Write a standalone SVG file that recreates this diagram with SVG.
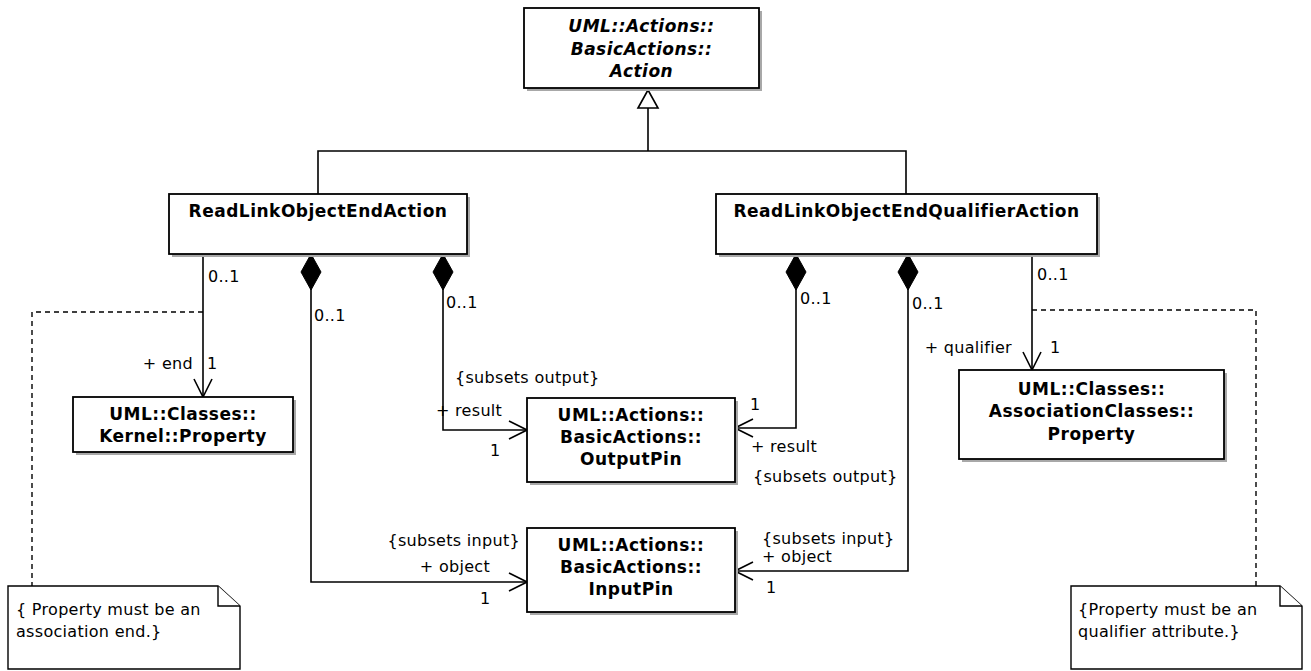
<svg xmlns="http://www.w3.org/2000/svg" width="1311" height="671" viewBox="0 0 1311 671">
<defs>
<style>
.box{fill:#fff;stroke:#000;stroke-width:1.8}
.shadow{fill:#a8a8a8}
.note{fill:#fff;stroke:#000;stroke-width:1.4}
.ln{fill:none;stroke:#000;stroke-width:1.6}
.dash{fill:none;stroke:#000;stroke-width:1.4;stroke-dasharray:5,4}
.cn{font-family:"DejaVu Sans",Verdana,sans-serif;font-size:17px;font-weight:bold;letter-spacing:0.5px;text-anchor:middle;fill:#000}
.it{font-style:italic}
.lb{font-family:"DejaVu Sans",Verdana,sans-serif;font-size:16px;letter-spacing:0.3px;fill:#000}
.r{text-anchor:end}
</style>
<marker id="arrow" viewBox="0 0 20 20" markerWidth="20" markerHeight="20" refX="19" refY="10" orient="auto" markerUnits="userSpaceOnUse">
<path d="M1,1 L19,10 L1,19" fill="none" stroke="#000" stroke-width="1.6"/>
</marker>
<marker id="diamond" viewBox="0 0 37 22" markerWidth="37" markerHeight="22" refX="0" refY="11" orient="auto" markerUnits="userSpaceOnUse">
<path d="M0,11 L18,1 L36,11 L18,21 Z" fill="#000" stroke="#000" stroke-width="1"/>
</marker>
<marker id="tri" viewBox="0 0 22 24" markerWidth="22" markerHeight="24" refX="19" refY="12" orient="auto" markerUnits="userSpaceOnUse">
<path d="M1,2 L19,12 L1,22 Z" fill="#fff" stroke="#000" stroke-width="1.6"/>
</marker>
</defs>
<rect width="1311" height="671" fill="#fff"/>

<g id="connectors">
<path class="ln" d="M648,151 L648,90" marker-end="url(#tri)"/>
<path class="ln" d="M318,194 L318,151 L906,151 L906,194"/>
<path class="ln" d="M203,254 L203,397" marker-end="url(#arrow)"/>
<path class="ln" d="M311,254 L311,582 L527,582" marker-start="url(#diamond)" marker-end="url(#arrow)"/>
<path class="ln" d="M443,254 L443,430 L527,430" marker-start="url(#diamond)" marker-end="url(#arrow)"/>
<path class="ln" d="M796,254 L796,428 L735,428" marker-start="url(#diamond)" marker-end="url(#arrow)"/>
<path class="ln" d="M908,254 L908,571 L735,571" marker-start="url(#diamond)" marker-end="url(#arrow)"/>
<path class="ln" d="M1032,254 L1032,370" marker-end="url(#arrow)"/>
<path class="dash" d="M203,312 L32,312 L32,586"/>
<path class="dash" d="M1032,310 L1256,310 L1256,586"/>
</g>

<g id="labels">
<text class="lb" x="208" y="282">0..1</text>
<text class="lb r" x="193" y="369">+ end</text>
<text class="lb" x="207" y="369">1</text>
<text class="lb" x="314" y="321">0..1</text>
<text class="lb" x="446" y="308">0..1</text>
<text class="lb" x="455" y="383">{subsets output}</text>
<text class="lb" x="436" y="416">+ result</text>
<text class="lb" x="490" y="456">1</text>
<text class="lb r" x="520" y="546">{subsets input}</text>
<text class="lb r" x="490" y="572">+ object</text>
<text class="lb" x="480" y="604">1</text>
<text class="lb" x="800" y="304">0..1</text>
<text class="lb" x="912" y="309">0..1</text>
<text class="lb" x="750" y="410">1</text>
<text class="lb" x="751" y="452">+ result</text>
<text class="lb" x="753" y="482">{subsets output}</text>
<text class="lb" x="762" y="544">{subsets input}</text>
<text class="lb" x="762" y="562">+ object</text>
<text class="lb" x="766" y="593">1</text>
<text class="lb" x="1037" y="280">0..1</text>
<text class="lb r" x="1012" y="353">+ qualifier</text>
<text class="lb" x="1050" y="353">1</text>
</g>

<g id="action">
<rect class="shadow" x="527" y="11" width="235" height="80"/>
<rect class="box" x="524" y="8" width="235" height="80"/>
<text class="cn it" x="641.5" y="32">UML::Actions::</text>
<text class="cn it" x="641.5" y="55">BasicActions::</text>
<text class="cn it" x="641.5" y="77">Action</text>
</g>

<g id="readLinkObjectEndAction">
<rect class="shadow" x="172" y="197" width="298" height="60"/>
<rect class="box" x="169" y="194" width="298" height="60"/>
<text class="cn" x="318" y="217">ReadLinkObjectEndAction</text>
</g>

<g id="readLinkObjectEndQualifierAction">
<rect class="shadow" x="719" y="197" width="381" height="60"/>
<rect class="box" x="716" y="194" width="381" height="60"/>
<text class="cn" x="906.5" y="217">ReadLinkObjectEndQualifierAction</text>
</g>

<g id="kernelProperty">
<rect class="shadow" x="76" y="400" width="220" height="55"/>
<rect class="box" x="73" y="397" width="220" height="55"/>
<text class="cn" x="183" y="420">UML::Classes::</text>
<text class="cn" x="183" y="442">Kernel::Property</text>
</g>

<g id="outputPin">
<rect class="shadow" x="530" y="401" width="208" height="84"/>
<rect class="box" x="527" y="398" width="208" height="84"/>
<text class="cn" x="631" y="421">UML::Actions::</text>
<text class="cn" x="631" y="443">BasicActions::</text>
<text class="cn" x="631" y="465">OutputPin</text>
</g>

<g id="inputPin">
<rect class="shadow" x="530" y="531" width="208" height="84"/>
<rect class="box" x="527" y="528" width="208" height="84"/>
<text class="cn" x="631" y="551">UML::Actions::</text>
<text class="cn" x="631" y="573">BasicActions::</text>
<text class="cn" x="631" y="595">InputPin</text>
</g>

<g id="associationProperty">
<rect class="shadow" x="962" y="373" width="265" height="89"/>
<rect class="box" x="959" y="370" width="265" height="89"/>
<text class="cn" x="1091.5" y="395">UML::Classes::</text>
<text class="cn" x="1091.5" y="417">AssociationClasses::</text>
<text class="cn" x="1091.5" y="440">Property</text>
</g>

<g id="noteEnd">
<path class="note" d="M8,586 L218,586 L240,606 L240,669 L8,669 Z"/>
<path class="note" d="M218,586 L218,606 L240,606" fill="none"/>
<text class="lb" x="16" y="615">{ Property must be an</text>
<text class="lb" x="16" y="637">association end.}</text>
</g>

<g id="noteQualifier">
<path class="note" d="M1071,586 L1280,586 L1302,606 L1302,669 L1071,669 Z"/>
<path class="note" d="M1280,586 L1280,606 L1302,606" fill="none"/>
<text class="lb" x="1078" y="615">{Property must be an</text>
<text class="lb" x="1078" y="637">qualifier attribute.}</text>
</g>
</svg>
